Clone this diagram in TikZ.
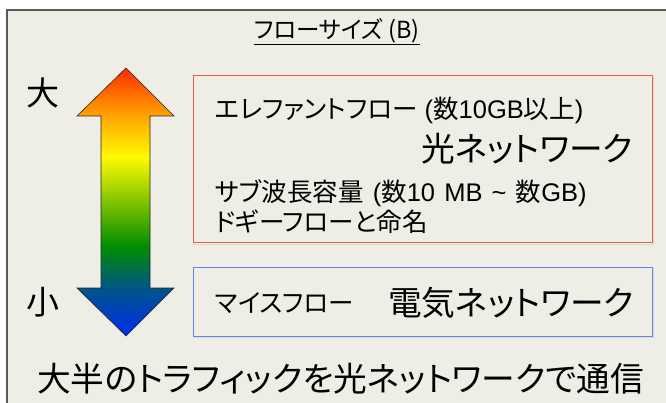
\documentclass[tikz,border=0pt]{standalone}
\usepackage{fontspec}
\setmainfont{Noto Sans CJK JP}[RawFeature=+palt]
\newfontfamily\latn{Liberation Sans}
\definecolor{bgbeige}{RGB}{239,238,230}
\definecolor{framegray}{RGB}{90,90,90}
\definecolor{redbox}{RGB}{238,92,72}
\definecolor{bluebox}{RGB}{105,130,228}
\definecolor{ablue}{RGB}{0,45,240}
\definecolor{ateal}{RGB}{0,85,135}
\definecolor{agreen}{RGB}{0,140,0}
\definecolor{ayellow}{RGB}{255,250,0}
\definecolor{aorange}{RGB}{255,165,0}
\definecolor{ared}{RGB}{255,45,0}
\pgfdeclareverticalshading{rainbowarrow}{100bp}{color(0bp)=(ablue); color(25bp)=(ablue); color(34bp)=(ateal); color(41.6bp)=(agreen); color(58.4bp)=(ayellow); color(66bp)=(aorange); color(75bp)=(ared); color(100bp)=(ared)}
\begin{document}
\begin{tikzpicture}[x=1pt,y=-1pt,
  txt/.style={inner sep=0pt, anchor=west, text=black},
  small/.style={font=\fontsize{25.5}{30}\selectfont},
  big/.style={font=\fontsize{33.7}{37}\selectfont},
  sizelbl/.style={inner sep=0pt, font=\fontsize{33}{36}\selectfont},
  box/.style={line width=1pt},
  shadow/.style={draw=black!15, line width=1.5pt}]
\useasboundingbox (0,0) rectangle (666,403);
\clip (0,0) rectangle (666,403);
\fill[white] (0,0) rectangle (666,403);
\filldraw[fill=bgbeige, draw=framegray, line width=1.3pt] (7,10) rectangle (690,430);

% title
\node[inner sep=0pt, font=\fontsize{23.5}{27}\selectfont] (title) at (337,31) {フローサイズ (B)};
\draw[line width=1.1pt] ([yshift=-1pt]title.south west) -- ([yshift=-1pt]title.south east);

% size labels
\node[sizelbl] (big) at (43,93) {大};
\node[sizelbl] (smallsz) at (43,302) {小};

% gradient double arrow
\shadedraw[shading=rainbowarrow, draw=black!85, line width=0.6pt]
  (126,68) -- (174,116) -- (150,116) -- (150,288) -- (174,288) -- (126,336)
  -- (77,288) -- (101,288) -- (101,116) -- (77,116) -- cycle;

% red box
\draw[shadow] (194.5,77.5) rectangle (653.5,244.5);
\filldraw[box, draw=redbox, fill=bgbeige] (193,76) rectangle (652,243);
\node[txt, small] (eleph) at (215,110) {エレファントフロー{\latn\ (}数{\latn 10GB}以上{\latn )}};
\node[txt, big] (optnet) at (421,149) {光ネットワーク};
\node[txt, small] (subwave) at (215,193) {サブ波長容量{\latn\hspace{0.36em}(}数{\latn 10\hspace{0.36em}MB\hspace{0.36em}\textasciitilde\hspace{0.36em}}数{\latn GB)}};
\node[txt, small] (doggy) at (215,222) {ドギーフローと命名};

% blue box
\draw[shadow] (194.5,268.5) rectangle (653.5,337.5);
\filldraw[box, draw=bluebox, fill=bgbeige] (193,267) rectangle (652,336);
\node[txt, small] (mouse) at (215,303) {マイスフロー};
\node[txt, big] (elecnet) at (388,303) {電気ネットワーク};

% bottom statement
\node[txt, big] (summary) at (37,379) {大半のトラフィックを光ネットワークで通信};
\end{tikzpicture}
\end{document}
